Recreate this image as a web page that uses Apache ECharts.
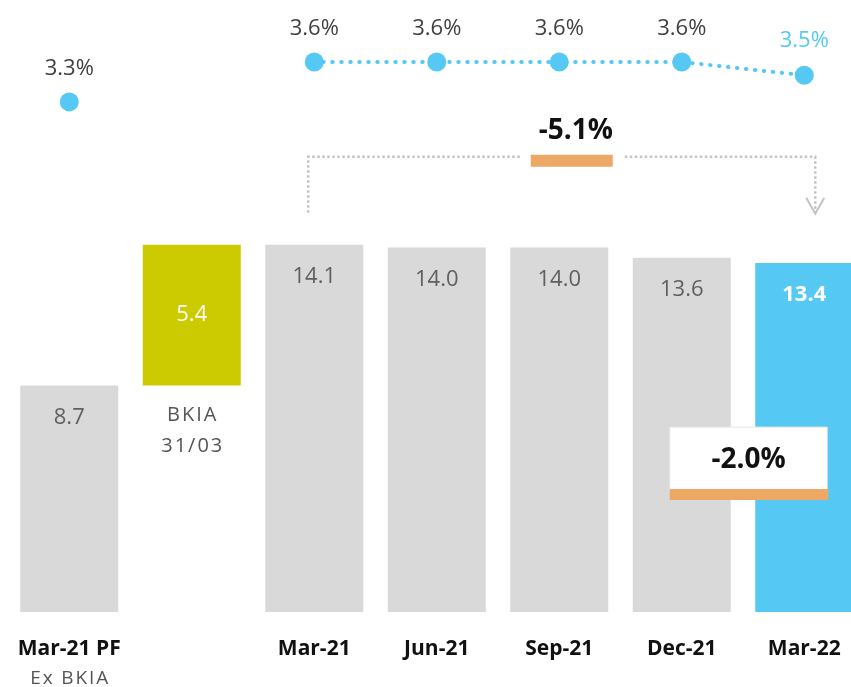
<!DOCTYPE html>
<html>
<head>
<meta charset="utf-8">
<script src="https://cdn.jsdelivr.net/npm/echarts@6/dist/echarts.min.js"></script>
<style>
  html, body { margin: 0; padding: 0; background: #fff; }
  #chart { width: 851px; height: 687px; }
</style>
</head>
<body>
<div id="chart"></div>
<script>
// Categories along the x axis
const categories = ['Mar-21 PF', 'BKIA', 'Mar-21', 'Jun-21', 'Sep-21', 'Dec-21', 'Mar-22'];
// Bar values (bn); the BKIA bar floats on top of the Mar-21 PF base
const barValues = [8.7, 5.4, 14.1, 14.0, 14.0, 13.6, 13.4];
const floatBase = [null, 8.7, null, null, null, null, null];
// Rate series (%) shown as dots above the bars
const rateValues = [3.3, null, 3.6, 3.6, 3.6, 3.6, 3.5];
// Change annotations
const changeLong = '-5.1%';
const changeShort = '-2.0%';

const FONT = '"Open Sans", "Noto Sans", sans-serif';
const GREY = '#D9D9D9', GREEN = '#CCCA00', CYAN = '#55C9F4', ORANGE = '#ECA864';
const HS = '\u200A';
const spaced = s => s.split('').join(HS);

const chart = echarts.init(document.getElementById('chart'), null, { renderer: 'canvas' });

const barColors = [GREY, GREEN, GREY, GREY, GREY, GREY, CYAN];

const option = {
  animation: false,
  backgroundColor: '#fff',
  grid: { left: 8, width: 857.5, top: 0, bottom: 75, containLabel: false, outerBoundsMode: 'none' },
  xAxis: {
    type: 'category',
    data: categories,
    axisLine: { show: false },
    axisTick: { show: false },
    axisLabel: {
      margin: 22,
      interval: 0,
      formatter: (v, i) => {
        if (i === 0) return '{b|' + v + '}\n{s|' + spaced('Ex BKIA') + '}';
        if (i === 1) return '';
        return '{b|' + v + '}';
      },
      rich: {
        b: { fontFamily: FONT, fontSize: 21, fontWeight: 'bold', color: '#111', lineHeight: 30 },
        s: { fontFamily: FONT, fontSize: 19, color: '#555', lineHeight: 30 }
      }
    }
  },
  yAxis: [
    { type: 'value', min: 0, max: 23.5, show: false, splitLine: { show: false } },
    { type: 'value', min: -0.535, max: 4.066, show: false, splitLine: { show: false } }
  ],
  series: [
    {
      type: 'bar',
      stack: 'total',
      barWidth: 98,
      data: floatBase,
      itemStyle: { color: 'transparent' },
      label: {
        show: true,
        position: 'insideTop',
        distance: 14,
        formatter: p => (p.dataIndex === 1 ? spaced('BKIA') + '\n' + spaced('31/03') : ''),
        fontFamily: FONT, fontSize: 20, color: '#555', lineHeight: 31
      },
      silent: true
    },
    {
      type: 'bar',
      stack: 'total',
      barWidth: 98,
      data: barValues.map((v, i) => {
        const item = { value: v, itemStyle: { color: barColors[i] } };
        if (i === 1) item.label = { position: 'inside', color: '#fff' };
        if (i === 6) item.label = { color: '#fff', fontWeight: 'bold' };
        return item;
      }),
      label: {
        show: true,
        position: 'insideTop',
        distance: 21,
        formatter: p => p.value.toFixed(1),
        fontFamily: FONT, fontSize: 22, color: '#606060'
      }
    },
    {
      type: 'line',
      yAxisIndex: 1,
      data: rateValues.map((v, i) => {
        if (v === null) return null;
        const item = { value: v };
        if (i === 6) item.label = { color: CYAN, distance: 14 };
        return item;
      }),
      connectNulls: false,
      symbol: 'circle',
      symbolSize: 19,
      showSymbol: true,
      itemStyle: { color: CYAN },
      lineStyle: { color: CYAN, width: 4, type: [0.5, 8.5], cap: 'round' },
      label: {
        show: true,
        position: 'top',
        distance: 13,
        formatter: p => p.value.toFixed(1) + '%',
        fontFamily: FONT, fontSize: 22, color: '#404040'
      },
      z: 5
    }
  ]
};

chart.setOption(option);

// Annotations placed from the axis scales
const px = (i, v) => chart.convertToPixel({ xAxisIndex: 0, yAxisIndex: 0 }, [i, v]);
const startTop = px(2, barValues[2]);
const endTop = px(6, barValues[6]);
const xL = startTop[0] - 6;
const xR = endTop[0] + 11;
const yLine = startTop[1] - 88;
const yLow = startTop[1] - 32;
const midX = (xL + xR) / 2 + 10;
const dotted = { stroke: '#C4C4C4', lineWidth: 2.5, lineDash: [2.5, 2.5] };

const dec = px(5, barValues[5]);
const boxL = dec[0] - 12;
const boxR = endTop[0] + 23;
const boxTop = px(5, 7.1)[1];

chart.setOption({
  graphic: [
    { type: 'polyline', z: 100, shape: { points: [[xL, yLow], [xL, yLine], [midX - 52, yLine]] }, style: Object.assign({ fill: null }, dotted) },
    { type: 'polyline', z: 100, shape: { points: [[midX + 53, yLine], [xR, yLine], [xR, yLow + 2]] }, style: Object.assign({ fill: null }, dotted) },
    { type: 'polyline', z: 100, shape: { points: [[xR - 9, yLow - 15], [xR, yLow + 1], [xR + 9, yLow - 15]] }, style: { fill: null, stroke: '#C4C4C4', lineWidth: 2 } },
    { type: 'rect', z: 100, shape: { x: midX - 41, y: yLine - 2, width: 82, height: 12 }, style: { fill: ORANGE } },
    { type: 'text', z: 100, x: midX + 4, y: yLine - 26, style: { text: changeLong, fontFamily: FONT, fontSize: 28, fontWeight: 'bold', fill: '#111', align: 'center', verticalAlign: 'middle' } },
    { type: 'rect', z: 100, shape: { x: boxL, y: boxTop, width: boxR - boxL, height: 63 }, style: { fill: '#fff', stroke: '#E4E4E4', lineWidth: 1 } },
    { type: 'text', z: 101, x: (boxL + boxR) / 2, y: boxTop + 33, style: { text: changeShort, fontFamily: FONT, fontSize: 28, fontWeight: 'bold', fill: '#111', align: 'center', verticalAlign: 'middle' } },
    { type: 'rect', z: 101, shape: { x: boxL, y: boxTop + 62, width: boxR - boxL + 1, height: 11 }, style: { fill: ORANGE } }
  ]
});
</script>
</body>
</html>
